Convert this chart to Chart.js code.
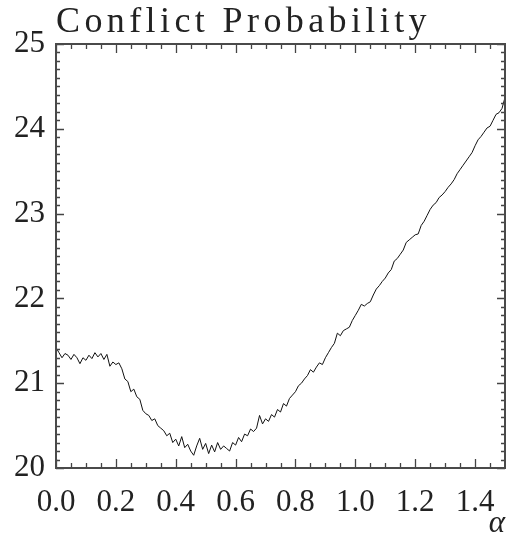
<!DOCTYPE html>
<html>
<head>
<meta charset="utf-8">
<script src="https://cdn.jsdelivr.net/npm/chart.js@4/dist/chart.umd.min.js"></script>
<style>
  html, body { margin: 0; padding: 0; background: #ffffff; }
  #wrap { width: 506px; height: 541px; }
</style>
</head>
<body>
<div id="wrap"><canvas id="c" width="506" height="541"></canvas></div>
<script>
// ---- data ----
const chartTitle = "Conflict Probability";
const xAxisLabel = "α";

const alphaValues = [
  0.00,0.01,0.02,0.03,0.04,0.05,0.06,0.07,0.08,0.09,
  0.10,0.11,0.12,0.13,0.14,0.15,0.16,0.17,0.18,0.19,
  0.20,0.21,0.22,0.23,0.24,0.25,0.26,0.27,0.28,0.29,
  0.30,0.31,0.32,0.33,0.34,0.35,0.36,0.37,0.38,0.39,
  0.40,0.41,0.42,0.43,0.44,0.45,0.46,0.47,0.48,0.49,
  0.50,0.51,0.52,0.53,0.54,0.55,0.56,0.57,0.58,0.59,
  0.60,0.61,0.62,0.63,0.64,0.65,0.66,0.67,0.68,0.69,
  0.70,0.71,0.72,0.73,0.74,0.75,0.76,0.77,0.78,0.79,
  0.80,0.81,0.82,0.83,0.84,0.85,0.86,0.87,0.88,0.89,
  0.90,0.91,0.92,0.93,0.94,0.95,0.96,0.97,0.98,0.99,
  1.00,1.01,1.02,1.03,1.04,1.05,1.06,1.07,1.08,1.09,
  1.10,1.11,1.12,1.13,1.14,1.15,1.16,1.17,1.18,1.19,
  1.20,1.21,1.22,1.23,1.24,1.25,1.26,1.27,1.28,1.29,
  1.30,1.31,1.32,1.33,1.34,1.35,1.36,1.37,1.38,1.39,
  1.40,1.41,1.42,1.43,1.44,1.45,1.46,1.47,1.48,1.49,
  1.50
];

const conflictProbability = [
  21.42,21.36,21.30,21.35,21.33,21.28,21.34,21.30,21.23,21.30,
  21.27,21.33,21.29,21.36,21.31,21.35,21.28,21.34,21.20,21.25,
  21.22,21.24,21.17,21.05,21.02,20.90,20.93,20.84,20.81,20.68,
  20.64,20.62,20.56,20.58,20.50,20.47,20.44,20.38,20.41,20.30,
  20.34,20.26,20.37,20.24,20.28,20.20,20.15,20.26,20.35,20.22,
  20.29,20.17,20.27,20.19,20.30,20.22,20.26,20.23,20.20,20.30,
  20.27,20.36,20.31,20.40,20.38,20.46,20.43,20.47,20.62,20.52,
  20.58,20.55,20.63,20.60,20.69,20.66,20.76,20.73,20.82,20.86,
  20.90,20.97,21.00,21.05,21.09,21.16,21.13,21.19,21.24,21.22,
  21.30,21.36,21.42,21.47,21.59,21.56,21.62,21.64,21.66,21.74,
  21.80,21.86,21.93,21.91,21.94,21.96,22.04,22.11,22.15,22.20,
  22.24,22.30,22.34,22.44,22.47,22.52,22.57,22.66,22.69,22.72,
  22.75,22.76,22.86,22.91,22.98,23.05,23.10,23.13,23.19,23.22,
  23.26,23.31,23.35,23.40,23.47,23.52,23.57,23.62,23.67,23.72,
  23.80,23.87,23.91,23.96,24.01,24.03,24.10,24.17,24.19,24.24,
  24.37
];

const xMin = 0, xMax = 1.5, xMajorStep = 0.2, xMinorStep = 0.05;
const yMin = 20, yMax = 25, yMajorStep = 1, yMinorStep = 0.1;

// ---- helpers ----
function isMultiple(v, step) {
  const r = v / step;
  return Math.abs(r - Math.round(r)) < 1e-6;
}

const points = alphaValues.map((a, i) => ({ x: a, y: conflictProbability[i] }));

// letter spacing for the title (wider, TeX-like look)
const titleSpacing = {
  id: 'titleSpacing',
  beforeDraw(chart) {
    const tb = chart.titleBlock;
    if (tb && !tb.__wrapped) {
      const orig = tb.draw;
      tb.draw = function (area) {
        const c = this.ctx;
        c.save();
        c.letterSpacing = '4.4px';
        orig.call(this, area);
        c.restore();
      };
      tb.__wrapped = true;
    }
  }
};

// frame + inward tick marks on all four sides, positioned by the chart's scales
const frameTicks = {
  id: 'frameTicks',
  afterDraw(chart) {
    const ctx = chart.ctx;
    const { left, right, top, bottom } = chart.chartArea;
    const xs = chart.scales.x, ys = chart.scales.y;
    ctx.save();
    ctx.strokeStyle = '#444';
    ctx.lineWidth = 1.3;
    ctx.beginPath();
    xs.ticks.forEach(t => {
      const px = Math.round(xs.getPixelForValue(t.value)) + 0.5;
      const L = isMultiple(t.value, xMajorStep) ? 9 : 5;
      ctx.moveTo(px, bottom); ctx.lineTo(px, bottom - L);
      ctx.moveTo(px, top); ctx.lineTo(px, top + L);
    });
    ys.ticks.forEach(t => {
      const py = Math.round(ys.getPixelForValue(t.value)) + 0.5;
      const L = isMultiple(t.value, yMajorStep) ? 8 : 4;
      ctx.moveTo(left, py); ctx.lineTo(left + L, py);
      ctx.moveTo(right, py); ctx.lineTo(right - L, py);
    });
    ctx.stroke();
    ctx.lineWidth = 2;
    ctx.strokeStyle = '#4a4a4a';
    ctx.strokeRect(left, top, right - left, bottom - top);
    ctx.restore();
  }
};

const serif = "'Liberation Serif', 'DejaVu Serif', serif";

new Chart(document.getElementById('c'), {
  type: 'line',
  data: {
    datasets: [{
      data: points,
      borderColor: '#111',
      borderWidth: 1,
      pointRadius: 0,
      tension: 0,
      fill: false
    }]
  },
  options: {
    responsive: false,
    animation: false,
    layout: { padding: { left: 0, right: 1, top: 0, bottom: 0 } },
    plugins: {
      legend: { display: false },
      tooltip: { enabled: false },
      title: {
        display: true,
        text: chartTitle,
        align: 'start',
        fullSize: false,
        color: '#222',
        font: { family: serif, size: 36, weight: 'normal', lineHeight: 1 },
        padding: { top: 5, bottom: 3 }
      }
    },
    scales: {
      x: {
        type: 'linear',
        min: xMin, max: xMax,
        grid: { display: false, drawTicks: false },
        border: { display: false },
        ticks: {
          stepSize: xMinorStep,
          autoSkip: false,
          maxRotation: 0, minRotation: 0,
          padding: 16,
          color: '#222',
          font: { family: serif, size: 31 },
          callback: (v) => isMultiple(v, xMajorStep) ? Number(v).toFixed(1) : ''
        },
        title: {
          display: true,
          text: xAxisLabel,
          align: 'end',
          color: '#222',
          font: { family: serif, size: 31, style: 'italic', lineHeight: 1 },
          padding: { top: 0, bottom: 2 }
        },
        afterFit: (s) => { s.height = 73; s.paddingLeft = 0; s.paddingRight = 0; }
      },
      y: {
        type: 'linear',
        min: yMin, max: yMax,
        grid: { display: false, drawTicks: false },
        border: { display: false },
        ticks: {
          stepSize: yMinorStep,
          autoSkip: false,
          padding: 11,
          color: '#222',
          font: { family: serif, size: 31 },
          callback: (v) => isMultiple(v, yMajorStep) ? String(Math.round(v)) : ''
        },
        afterFit: (s) => { s.width = 56; s.paddingTop = 0; s.paddingBottom = 0; }
      }
    }
  },
  plugins: [titleSpacing, frameTicks]
});
</script>
</body>
</html>
